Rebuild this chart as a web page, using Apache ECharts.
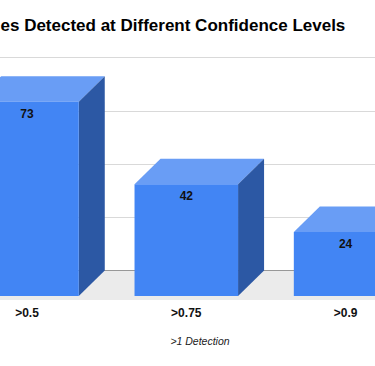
<!DOCTYPE html>
<html>
<head>
<meta charset="utf-8">
<script src="https://cdn.jsdelivr.net/npm/echarts@6/dist/echarts.min.js"></script>
<style>html,body{margin:0;padding:0;background:#fff}#c{width:375px;height:366px}</style>
</head>
<body>
<div id="c"></div>
<script>
var categories = ['>0.5', '>0.75', '>0.9'];
var detections = [73, 42, 24];
var yTicks = { min: 0, max: 80, interval: 20 };
var titleText = 'es Detected at Different Confidence Levels';
var axisTitle = '>1 Detection';

var DX = 26, DY = 25.5;
var FONT = '"Liberation Sans", Arial, sans-serif';
var chart = echarts.init(document.getElementById('c'), null, { renderer: 'svg' });

function renderBar(params, api) {
  var top = api.coord([api.value(0), api.value(1)]);
  var base = api.coord([api.value(0), 0]);
  var w = api.size([1, 0])[0] * 0.65;
  var x0 = top[0] - w / 2, x1 = top[0] + w / 2;
  return {
    type: 'group',
    children: [
      { type: 'polygon', shape: { points: [[x0, top[1]], [x1, top[1]], [x1 + DX, top[1] - DY], [x0 + DX, top[1] - DY]] }, style: { fill: '#699df5' } },
      { type: 'polygon', shape: { points: [[x1, top[1]], [x1 + DX, top[1] - DY], [x1 + DX, base[1] - DY], [x1, base[1]]] }, style: { fill: '#2c58a4' } },
      { type: 'rect', shape: { x: x0, y: top[1], width: w, height: base[1] - top[1] }, style: { fill: '#4285f4' } },
      { type: 'text', x: top[0], y: top[1] + 12, style: { text: String(api.value(1)), fill: '#111', font: 'bold 12px ' + FONT, align: 'center', verticalAlign: 'middle' } }
    ]
  };
}

function renderFloor(params, api) {
  var base = api.coord([0, 0]);
  return {
    type: 'group',
    children: [
      { type: 'rect', shape: { x: -200, y: base[1] - DY, width: 800, height: DY + 4 }, style: { fill: '#ebebeb' } }
    ]
  };
}

chart.setOption({
  animation: false,
  grid: [
    { left: -52.65, right: -50.25, top: 83, bottom: 70, outerBoundsMode: 'none', containLabel: false },
    { left: -26.65, right: -76.25, top: 57.5, bottom: 95.5, outerBoundsMode: 'none', containLabel: false }
  ],
  xAxis: [
    { gridIndex: 0, type: 'category', data: categories, axisLine: { show: false }, axisTick: { show: false },
      axisLabel: { margin: 11, color: '#111', fontWeight: 'bold', fontSize: 12, fontFamily: FONT } },
    { gridIndex: 1, type: 'category', data: categories, axisLine: { show: true, lineStyle: { color: '#444', width: 1 } },
      axisTick: { show: false }, axisLabel: { show: false } }
  ],
  yAxis: [
    { gridIndex: 0, type: 'value', min: yTicks.min, max: yTicks.max, interval: yTicks.interval, show: false, splitLine: { show: false } },
    { gridIndex: 1, type: 'value', min: yTicks.min, max: yTicks.max, interval: yTicks.interval,
      axisLine: { show: false }, axisTick: { show: false }, axisLabel: { show: false },
      splitLine: { show: true, lineStyle: { color: '#d9d9d9', width: 1 } } }
  ],
  graphic: [
    { type: 'text', left: 0.5, top: 17, style: { text: titleText, fill: '#000', font: 'bold 17px ' + FONT } },
    { type: 'text', x: 200, y: 341, style: { text: axisTitle, fill: '#222', font: 'italic 10.5px ' + FONT, align: 'center', verticalAlign: 'middle' } }
  ],
  series: [
    { type: 'custom', xAxisIndex: 0, yAxisIndex: 0, renderItem: renderFloor, data: [[0, 0]], z: 1, silent: true },
    { type: 'custom', xAxisIndex: 0, yAxisIndex: 0, renderItem: renderBar, z: 2, silent: true,
      data: detections.map(function (v, i) { return [i, v]; }) }
  ]
});
</script>
</body>
</html>
